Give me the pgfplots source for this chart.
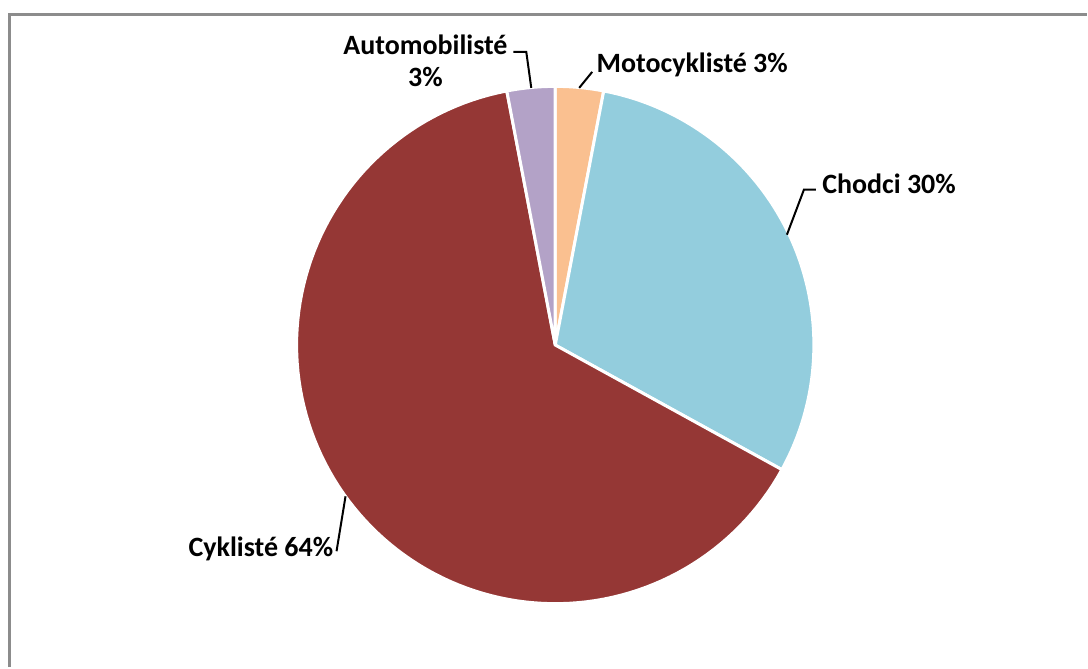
\documentclass[border=0pt]{standalone}
\usepackage{pgfplots}
\pgfplotsset{compat=1.18}
\usepackage{fontspec}
\setmainfont{Carlito}
\definecolor{cMoto}{HTML}{FAC090}
\definecolor{cChod}{HTML}{93CDDD}
\definecolor{cCykl}{HTML}{953735}
\definecolor{cAuto}{HTML}{B3A2C7}
\definecolor{frameg}{HTML}{8C8C8C}
% shares in percent (clockwise from 12 o'clock)
\def\vMoto{3}
\def\vChod{30}
\def\vCykl{64}
\def\vAuto{3}
\pgfmathsetmacro{\aA}{90}
\pgfmathsetmacro{\aB}{\aA-3.6*\vMoto}
\pgfmathsetmacro{\aC}{\aB-3.6*\vChod}
\pgfmathsetmacro{\aD}{\aC-3.6*\vCykl}
\pgfmathsetmacro{\aE}{\aD-3.6*\vAuto}
\begin{document}
\begin{tikzpicture}
\begin{axis}[
  x=0.5pt, y=0.5pt,
  xmin=0, xmax=1088, ymin=0, ymax=668,
  hide axis, clip=false,
  samples=120,
]
\path (axis cs:0,0) rectangle (axis cs:1088,668);
\def\cx{556}\def\cy{322.5}\def\rr{259}
\addplot[fill=cMoto, draw=white, line width=1.5pt, domain=\aB:\aA, variable=\t]
  ({\cx+\rr*cos(t)},{\cy+\rr*sin(t)}) -- (axis cs:556,322.5) -- cycle;
\addplot[fill=cChod, draw=white, line width=1.5pt, domain=\aC:\aB, variable=\t]
  ({\cx+\rr*cos(t)},{\cy+\rr*sin(t)}) -- (axis cs:556,322.5) -- cycle;
\addplot[fill=cCykl, draw=white, line width=1.5pt, domain=\aD:\aC, variable=\t]
  ({\cx+\rr*cos(t)},{\cy+\rr*sin(t)}) -- (axis cs:556,322.5) -- cycle;
\addplot[fill=cAuto, draw=white, line width=1.5pt, domain=\aE:\aD, variable=\t]
  ({\cx+\rr*cos(t)},{\cy+\rr*sin(t)}) -- (axis cs:556,322.5) -- cycle;
% frame
\draw[frameg, line width=1.5pt] (axis cs:9.5,0) -- (axis cs:9.5,653.5) -- (axis cs:1088,653.5);
% leader lines
\draw[black, line width=1pt] (axis cs:514,616) -- (axis cs:527,616) -- (axis cs:532,580);
\draw[black, line width=1pt] (axis cs:580,580) -- (axis cs:593,596);
\draw[black, line width=1pt] (axis cs:788,433) -- (axis cs:805,478) -- (axis cs:817,478);
\draw[black, line width=1pt] (axis cs:337,116) -- (axis cs:346,171);
% labels
\tikzset{lab/.style={font=\fontsize{14}{16}\selectfont\bfseries, text=black, inner sep=0pt}}
\node[lab, align=center] at (axis cs:426,607) {Automobilisté\\3\%};
\node[lab, anchor=west] at (axis cs:597,603) {Motocyklisté 3\%};
\node[lab, anchor=west] at (axis cs:823,484) {Chodci 30\%};
\node[lab, anchor=east] at (axis cs:334,118) {Cyklisté 64\%};
\end{axis}
\end{tikzpicture}
\end{document}
